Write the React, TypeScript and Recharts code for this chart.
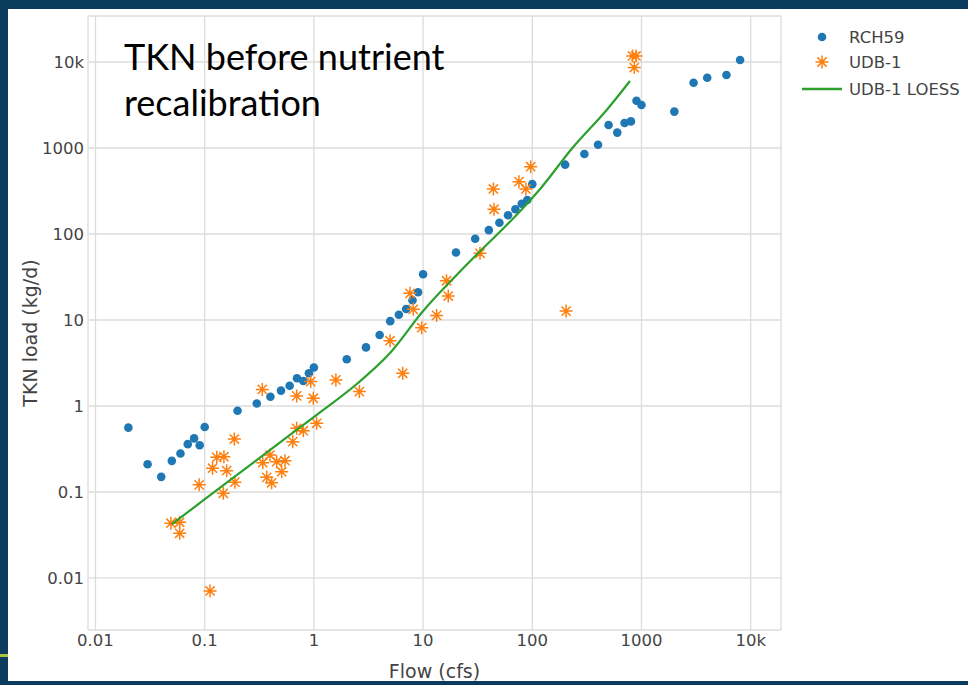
import { ScatterChart, Scatter, XAxis, YAxis, CartesianGrid } from "recharts";

// RCH59 model output
const rchFlow = [
  0.02, 0.03, 0.04, 0.05, 0.06, 0.07, 0.08, 0.09, 0.1, 0.2, 0.3, 0.4, 0.5, 0.6,
  0.7, 0.8, 0.9, 1, 2, 3, 4, 5, 6, 7, 8, 9, 10, 20, 30, 40, 50, 60, 70, 80, 90,
  100, 200, 300, 400, 500, 600, 700, 800, 900, 1000, 2000, 3000, 4000, 6000, 8000,
];
const rchLoad = [
  0.56, 0.21, 0.15, 0.23, 0.28, 0.36, 0.42, 0.35, 0.57, 0.88, 1.07, 1.28, 1.51,
  1.72, 2.1, 1.95, 2.4, 2.8, 3.5, 4.8, 6.7, 9.7, 11.5, 13.4, 17, 21, 34, 61, 88,
  111, 135, 165, 194, 225, 248, 380, 640, 850, 1090, 1850, 1510, 1950, 2040,
  3550, 3160, 2650, 5750, 6560, 7060, 10550,
];

// UDB-1 observations
const udbFlow = [
  0.049, 0.059, 0.059, 0.089, 0.112, 0.118, 0.129, 0.15, 0.148, 0.159, 0.187,
  0.189, 0.337, 0.34, 0.396, 0.37, 0.41, 0.456, 0.544, 0.507, 0.64, 0.696, 0.8,
  1.06, 0.696, 0.988, 0.935, 1.59, 2.61, 4.98, 6.51, 7.59, 8.13, 9.71, 13.3,
  16.4, 17, 33.2, 44, 44.6, 75.5, 87.5, 96.7, 204, 828, 891, 859,
];
const udbLoad = [
  0.0433, 0.0444, 0.0331, 0.121, 0.00706, 0.189, 0.253, 0.257, 0.0966, 0.177,
  0.413, 0.13, 1.56, 0.219, 0.269, 0.148, 0.128, 0.225, 0.231, 0.172, 0.385,
  0.55, 0.516, 0.629, 1.31, 1.23, 1.92, 2.01, 1.47, 5.74, 2.4, 20.4, 13.3, 8.13,
  11.3, 28.6, 19, 59.7, 334, 194, 406, 334, 606, 12.7, 11750, 11750, 8630,
];

// UDB-1 LOESS fit
const loessFlow = [0.05, 0.101, 0.604, 1.22, 2.47, 4.98, 10, 20.3, 35.6, 58.3, 118, 237, 480, 785];
const loessLoad = [0.0421, 0.0829, 0.46, 0.899, 1.8, 4.13, 12.7, 33.4, 68.7, 127, 334, 1027, 2766, 6013];

const xTicks = [0.01, 0.1, 1, 10, 100, 1000, 10000];
const yTicks = [0.01, 0.1, 1, 10, 100, 1000, 10000];

const rchData = rchFlow.map((x, i) => ({ x, y: rchLoad[i] }));
const udbData = udbFlow.map((x, i) => ({ x, y: udbLoad[i] }));
const loessData = loessFlow.map((x, i) => ({ x, y: loessLoad[i] }));

const BLUE = "#1f77b4";
const ORANGE = "#ff7f0e";
const GREEN = "#2ca02c";
const FONT = "'DejaVu Sans', Verdana, sans-serif";

const fmtTick = (v: number) => (v >= 10000 ? `${v / 1000}k` : `${v}`);

function starPath(cx: number, cy: number) {
  const rs = 6.5;
  const rc = 4.6;
  return `M${cx},${cy - rs}V${cy + rs}M${cx - rs},${cy}H${cx + rs}M${cx - rc},${cy - rc}L${cx + rc},${cy + rc}M${cx + rc},${cy - rc}L${cx - rc},${cy + rc}`;
}

const Dot = (p: any) => <circle cx={p.cx} cy={p.cy} r={4.3} fill={BLUE} />;
const Star = (p: any) => (
  <path d={starPath(p.cx, p.cy)} stroke={ORANGE} strokeWidth={1.5} fill="none" />
);
const NoShape = () => <g />;

export default function App() {
  return (
    <div style={{ position: "absolute", left: 0, top: 0, width: 968, height: 685, background: "#0b3c5d", overflow: "hidden" }}>
      <div style={{ position: "absolute", left: 8, top: 9, width: 960, height: 672, background: "#fff" }} />
      <div style={{ position: "absolute", left: 0, top: 654, width: 8, height: 3, background: "#a8c43c" }} />
      <div style={{ position: "absolute", left: 0, top: 0 }}>
        <ScatterChart width={968} height={685} margin={{ top: 16, right: 187, bottom: 5, left: 8 }}>
          <CartesianGrid stroke="#dcdcdc" strokeWidth={1.3} />
          <XAxis
            type="number"
            dataKey="x"
            scale="log"
            domain={[0.00854, 18950]}
            allowDataOverflow
            ticks={xTicks}
            tickFormatter={fmtTick}
            axisLine={false}
            tickLine={false}
            tickSize={0}
            tickMargin={4}
            height={50}
            tick={{ fill: "#444", fontSize: 16.5, fontFamily: FONT }}
            label={{ value: "Flow (cfs)", position: "insideBottom", offset: 2, fill: "#444", fontSize: 19, fontFamily: FONT }}
          />
          <YAxis
            type="number"
            dataKey="y"
            scale="log"
            domain={[0.002483, 34280]}
            allowDataOverflow
            ticks={yTicks}
            tickFormatter={fmtTick}
            axisLine={false}
            tickLine={false}
            tickSize={0}
            tickMargin={4}
            width={80}
            tick={{ fill: "#444", fontSize: 16.5, fontFamily: FONT }}
            label={{ value: "TKN load (kg/d)", angle: -90, position: "insideLeft", offset: 22, dy: 10, fill: "#444", fontSize: 19, fontFamily: FONT, style: { textAnchor: "middle" } }}
          />
          <Scatter name="RCH59" data={rchData} shape={Dot} isAnimationActive={false} />
          <Scatter name="UDB-1" data={udbData} shape={Star} isAnimationActive={false} />
          <Scatter
            name="UDB-1 LOESS"
            data={loessData}
            line={{ stroke: GREEN, strokeWidth: 2.2 }}
            lineJointType="monotoneX"
            shape={NoShape}
            isAnimationActive={false}
          />
        </ScatterChart>
      </div>

      <div
        style={{
          position: "absolute",
          left: 124,
          top: 33,
          fontFamily: "Lato, sans-serif",
          fontSize: 36,
          lineHeight: "46px",
          color: "#000",
          whiteSpace: "nowrap",
        }}
      >
        TKN before nutrient
        <br />
        recalibration
      </div>

      <svg style={{ position: "absolute", left: 790, top: 20 }} width={178} height={85}>
        <circle cx={32} cy={17} r={4.3} fill={BLUE} />
        <path d={starPath(32, 42)} stroke={ORANGE} strokeWidth={1.5} fill="none" />
        <line x1={12} x2={52} y1={69} y2={69} stroke={GREEN} strokeWidth={2.5} />
        <g fill="#444" fontSize={16.5} fontFamily={FONT}>
          <text x={59} y={17} dy="0.36em">RCH59</text>
          <text x={59} y={42} dy="0.36em">UDB-1</text>
          <text x={59} y={69} dy="0.36em">UDB-1 LOESS</text>
        </g>
      </svg>

      <div style={{ position: "absolute", left: 0, top: 681, width: 968, height: 4, background: "#0b3c5d" }} />
    </div>
  );
}
